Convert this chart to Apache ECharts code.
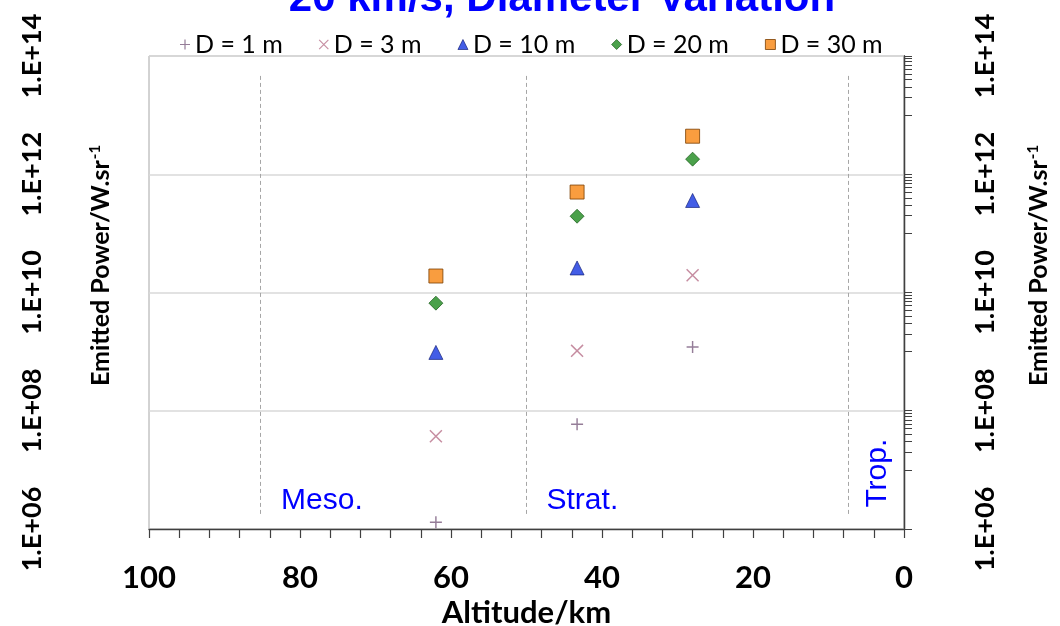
<!DOCTYPE html>
<html><head><meta charset="utf-8">
<script src="https://cdn.jsdelivr.net/npm/echarts@6/dist/echarts.min.js"></script>
<style>html,body{margin:0;padding:0;background:#fff}#c{width:1060px;height:626px}</style>
</head><body><div id="c"></div>
<script>
// ---- data ----
const altitudes = [62, 43.3, 28];
const seriesNames = ['D = 1 m', 'D = 3 m', 'D = 10 m', 'D = 20 m', 'D = 30 m'];
const power1m  = [1.3e6, 5.9e7, 1.2e9];
const power3m  = [3.7e7, 1.03e9, 1.96e10];
const power10m = [9.7e8, 2.6e10, 3.6e11];
const power20m = [6.6e9, 1.95e11, 1.8e12];
const power30m = [1.9e10, 5.0e11, 4.4e12];
const xTickLabels = ['100', '80', '60', '40', '20', '0'];
const yTickValues = [1e6, 1e8, 1e10, 1e12, 1e14];
const yTickLabels = ['1.E+06', '1.E+08', '1.E+10', '1.E+12', '1.E+14'];
const layerBoundaries = [85.3, 50, 7.4];
const layerNames = ['Meso.', 'Strat.', 'Trop.'];

// right-axis minor tick values: k * 10^(odd exponent), k = 1..10
const rightTickValues = [1e6];
[7, 9, 11, 13].forEach(e => { for (let k = 1; k <= 10; k++) rightTickValues.push(k * Math.pow(10, e)); });

function yLabel(v) {
  const lv = Math.log10(v);
  for (let i = 0; i < yTickValues.length; i++) {
    if (Math.abs(Math.log10(yTickValues[i]) - lv) < 1e-6) return yTickLabels[i];
  }
  return '';
}

const plusPath = 'path://M4.4,0H5.6V4.4H10V5.6H5.6V10H4.4V5.6H0V4.4H4.4Z';
const crossPath = 'path://M0.8,0L10,9.2L9.2,10L0,0.8Z M9.2,0L10,0.8L0.8,10L0,9.2Z';

const seriesData = [power1m, power3m, power10m, power20m, power30m];
const symbols = [plusPath, crossPath, 'triangle', 'diamond', 'rect'];
const sizes = [12, 13, 14, 14, 14];
const styles = [
  {color: '#7b5c7e'},
  {color: '#b8708a'},
  {color: '#1434e0', borderColor: '#0a1670', borderWidth: 0.8},
  {color: '#1e8a1e', borderColor: '#0b4d0b', borderWidth: 0.8},
  {color: '#f7850f', borderColor: '#7a3e00', borderWidth: 1}
];

const FONT = 'Lato';
const axisNameRich = {
  a: {fontFamily: FONT, fontWeight: 'bold', fontSize: 25, color: '#000'},
  sup: {fontFamily: FONT, fontWeight: 'bold', fontSize: 15, color: '#000', verticalAlign: 'top', padding: [0, 0, 11, 1]}
};

const series = seriesNames.map((name, i) => ({
  name: name,
  type: 'scatter',
  xAxisIndex: 0, yAxisIndex: 0,
  symbol: symbols[i],
  symbolSize: sizes[i],
  symbolKeepAspect: true,
  itemStyle: styles[i],
  z: 5 + i,
  data: altitudes.map((a, j) => [a, seriesData[i][j]])
}));

series[0].markLine = {
  silent: true,
  symbol: ['none', 'none'],
  label: {show: false},
  lineStyle: {type: [4, 3], color: '#a6a6a6', width: 1},
  data: layerBoundaries.map(b => [{coord: [b, 1.8e6]}, {coord: [b, 5.0e13]}])
};
series[0].markPoint = {
  silent: true,
  symbol: 'rect',
  symbolSize: 1,
  itemStyle: {color: 'rgba(0,0,0,0)'},
  label: {show: true, position: 'inside', color: '#0000ff', fontFamily: 'Liberation Sans', fontSize: 30},
  data: [
    {name: layerNames[0], coord: [77.1, 3.0e6], label: {formatter: layerNames[0]}},
    {name: layerNames[1], coord: [42.6, 3.0e6], label: {formatter: layerNames[1]}},
    {name: layerNames[2], coord: [3.45, 8.8e6], label: {formatter: layerNames[2], rotate: 90}}
  ]
};

const chart = echarts.init(document.getElementById('c'), null, {renderer: 'canvas'});
chart.setOption({
  backgroundColor: '#ffffff',
  animation: false,
  title: {
    text: '20 km/s, Diameter Variation',
    left: 557, top: -27, textAlign: 'center',
    textStyle: {color: '#0000ff', fontFamily: 'Liberation Sans', fontWeight: 'bold', fontSize: 42}
  },
  legend: {
    left: 175, top: 27,
    itemGap: 36, itemWidth: 10, itemHeight: 10,
    textStyle: {fontFamily: FONT, fontSize: 25, color: '#000'},
    data: seriesNames.map((n, i) => ({name: n, icon: symbols[i], itemStyle: styles[i]}))
  },
  grid: {left: 149, right: 156, top: 56, bottom: 97, show: true, borderColor: '#a6a6a6', borderWidth: 1,
    containLabel: false, outerBoundsMode: 'none'},
  xAxis: {
    type: 'value', min: 0, max: 100, interval: 20, inverse: true,
    axisLine: {show: true, onZero: false, lineStyle: {color: '#404040', width: 1.3}},
    axisTick: {show: true, length: 9, lineStyle: {color: '#404040', width: 1.2}},
    minorTick: {show: true, splitNumber: 5, length: 9, lineStyle: {color: '#404040', width: 1.2}},
    splitLine: {show: false},
    axisLabel: {margin: 33, fontFamily: FONT, fontWeight: 'bold', fontSize: 31, color: '#000',
      formatter: v => xTickLabels[xTickLabels.indexOf(String(v))] || String(v)},
    name: 'Altitude/km', nameLocation: 'middle', nameGap: 68, nameMoveOverlap: false,
    nameTextStyle: {fontFamily: FONT, fontWeight: 'bold', fontSize: 31, color: '#000'}
  },
  yAxis: [{
    type: 'log', logBase: 10, min: 1e6, max: 1e14, position: 'left',
    axisLine: {show: true, lineStyle: {color: '#595959', width: 1.3}},
    axisTick: {show: false, customValues: yTickValues},
    splitLine: {show: true, lineStyle: {color: '#d9d9d9', width: 1.5}},
    axisLabel: {customValues: yTickValues, rotate: 90, margin: 103, fontFamily: FONT, fontWeight: 'bold', fontSize: 27, color: '#000', formatter: yLabel},
    name: '{a|Emitted Power/W.sr}{sup|-1}', nameLocation: 'middle', nameGap: 35, nameRotate: 90, nameMoveOverlap: false,
    nameTextStyle: {rich: axisNameRich, padding: [0, 0, 0, 54]}
  }, {
    type: 'log', logBase: 10, min: 1e6, max: 1e14, position: 'right',
    axisLine: {show: true, lineStyle: {color: '#404040', width: 1.3}},
    axisTick: {show: true, inside: false, length: 8, customValues: rightTickValues, lineStyle: {color: '#404040', width: 1}},
    splitLine: {show: false},
    axisLabel: {customValues: yTickValues, rotate: 90, margin: 68, fontFamily: FONT, fontWeight: 'bold', fontSize: 27, color: '#000', formatter: yLabel},
    name: '{a|Emitted Power/W.sr}{sup|-1}', nameLocation: 'middle', nameGap: 122, nameRotate: 90, nameMoveOverlap: false,
    nameTextStyle: {rich: axisNameRich, padding: [0, 0, 0, 54]}
  }],
  series: series
});
</script>
</body></html>
